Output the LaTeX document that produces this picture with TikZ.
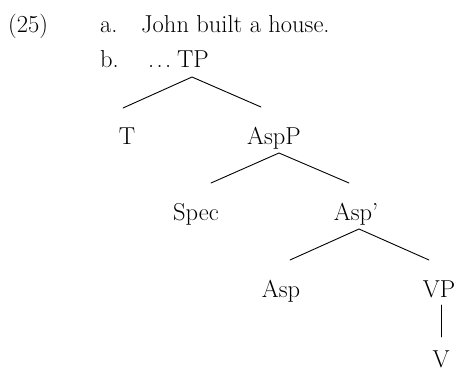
\documentclass[tikz,border=0pt]{standalone}
\usetikzlibrary{calc}
\begin{document}
\begin{tikzpicture}[x=1pt,y=-1pt,
  lbl/.style={inner sep=0pt,anchor=base,font=\fontsize{24.5}{29}\selectfont},
  edge/.style={line width=0.9pt,line cap=round}]
\useasboundingbox (0,0) rectangle (459,372);
\node[lbl,anchor=base west] (num) at (8,32) {(25)};
\node[lbl,anchor=base west] (a) at (100,32) {a.};
\node[lbl,anchor=base west] (sent) at (141,32) {John built a house.};
\node[lbl,anchor=base west] (b) at (100,67) {b.};
\node[lbl,anchor=base west] (dots) at (148,67) {\makebox[23pt][s]{.\hfil.\hfil.}};
\node[lbl] (TP) at (193,67) {TP};
\node[lbl] (T) at (127,144) {T};
\node[lbl] (AspP) at (274,144) {AspP};
\node[lbl] (Spec) at (196,220) {Spec};
\node[lbl] (Aspbar) at (356,220) {Asp'};
\node[lbl] (Asp) at (281,297) {Asp};
\node[lbl] (VP) at (439,297) {VP};
\node[lbl] (V) at (441,367) {V};
\draw[edge] ($(T.base)+(-4,-36)$) -- ($(TP.base)+(-1,10)$) -- ($(AspP.base)+(-13,-37)$);
\draw[edge] ($(Spec.base)+(15,-37)$) -- ($(AspP.base)+(5,9)$) -- ($(Aspbar.base)+(-7,-37)$);
\draw[edge] ($(Asp.base)+(9,-37)$) -- ($(Aspbar.base)+(3,9)$) -- ($(VP.base)+(-10,-37)$);
\draw[edge] ($(VP.base)+(2,8)$) -- ($(V.base)+(0,-30)$);
\end{tikzpicture}
\end{document}
